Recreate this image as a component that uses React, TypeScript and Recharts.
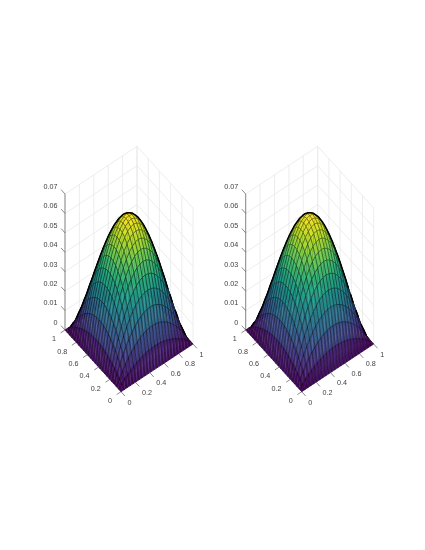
import React from 'react';
import { ScatterChart, Scatter, XAxis, YAxis } from 'recharts';

// mesh nodes along x and y
const GRID = [0, 0.0417, 0.0833, 0.125, 0.1667, 0.2083, 0.25, 0.2917, 0.3333, 0.375, 0.4167, 0.4583, 0.5, 0.5417, 0.5833, 0.625, 0.6667, 0.7083, 0.75, 0.7917, 0.8333, 0.875, 0.9167, 0.9583, 1];
// surface height at every node, in units of 1e-4
const Z_ROWS = [
  [0,0,0,0,0,0,0,0,0,0,0,0,0,0,0,0,0,0,0,0,0,0,0,0,0],
  [0,16,31,44,55,66,75,82,89,94,97,99,100,99,97,94,89,82,75,66,55,44,31,16,0],
  [0,31,58,84,106,126,143,158,170,179,186,190,191,190,186,179,170,158,143,126,106,84,58,31,0],
  [0,44,84,120,152,180,205,226,243,256,266,272,273,272,266,256,243,226,205,180,152,120,84,44,0],
  [0,55,106,152,193,229,260,287,309,326,338,345,347,345,338,326,309,287,260,229,193,152,106,55,0],
  [0,66,126,180,229,272,309,341,367,387,401,409,412,409,401,387,367,341,309,272,229,180,126,66,0],
  [0,75,143,205,260,309,352,387,417,439,456,465,469,465,456,439,417,387,352,309,260,205,143,75,0],
  [0,82,158,226,287,341,387,427,459,484,502,513,517,513,502,484,459,427,387,341,287,226,158,82,0],
  [0,89,170,243,309,367,417,459,494,521,540,552,556,552,540,521,494,459,417,367,309,243,170,89,0],
  [0,94,179,256,326,387,439,484,521,549,570,582,586,582,570,549,521,484,439,387,326,256,179,94,0],
  [0,97,186,266,338,401,456,502,540,570,591,603,608,603,591,570,540,502,456,401,338,266,186,97,0],
  [0,99,190,272,345,409,465,513,552,582,603,616,621,616,603,582,552,513,465,409,345,272,190,99,0],
  [0,100,191,273,347,412,469,517,556,586,608,621,625,621,608,586,556,517,469,412,347,273,191,100,0],
  [0,99,190,272,345,409,465,513,552,582,603,616,621,616,603,582,552,513,465,409,345,272,190,99,0],
  [0,97,186,266,338,401,456,502,540,570,591,603,608,603,591,570,540,502,456,401,338,266,186,97,0],
  [0,94,179,256,326,387,439,484,521,549,570,582,586,582,570,549,521,484,439,387,326,256,179,94,0],
  [0,89,170,243,309,367,417,459,494,521,540,552,556,552,540,521,494,459,417,367,309,243,170,89,0],
  [0,82,158,226,287,341,387,427,459,484,502,513,517,513,502,484,459,427,387,341,287,226,158,82,0],
  [0,75,143,205,260,309,352,387,417,439,456,465,469,465,456,439,417,387,352,309,260,205,143,75,0],
  [0,66,126,180,229,272,309,341,367,387,401,409,412,409,401,387,367,341,309,272,229,180,126,66,0],
  [0,55,106,152,193,229,260,287,309,326,338,345,347,345,338,326,309,287,260,229,193,152,106,55,0],
  [0,44,84,120,152,180,205,226,243,256,266,272,273,272,266,256,243,226,205,180,152,120,84,44,0],
  [0,31,58,84,106,126,143,158,170,179,186,190,191,190,186,179,170,158,143,126,106,84,58,31,0],
  [0,16,31,44,55,66,75,82,89,94,97,99,100,99,97,94,89,82,75,66,55,44,31,16,0],
  [0,0,0,0,0,0,0,0,0,0,0,0,0,0,0,0,0,0,0,0,0,0,0,0,0],
];
const XY_TICKS = [0, 0.2, 0.4, 0.6, 0.8, 1];
const XY_LABELS = ['0', '0.2', '0.4', '0.6', '0.8', '1'];
const Z_TICKS = [0, 0.01, 0.02, 0.03, 0.04, 0.05, 0.06, 0.07];
const Z_LABELS = ['0', '0.01', '0.02', '0.03', '0.04', '0.05', '0.06', '0.07'];
const VIRIDIS = ['#440154', '#482878', '#3e4989', '#31688e', '#26828e', '#1f9e89', '#35b779', '#6ece58', '#b5de2b', '#fde725'];
const PANEL_OFFSETS = [0, 180.7];

const W = 425;
const H = 550;

const project = (x: number, y: number, z: number, off: number) => ({
  sx: 121 + off + 72 * x - 56 * y,
  sy: 391.7 - 47.7 * x - 61.7 * y - 1943 * z,
});

const hexToRgb = (h: string) => [1, 3, 5].map((i) => parseInt(h.slice(i, i + 2), 16));
const colorOf = (t: number) => {
  const v = Math.max(0, Math.min(0.9999, t)) * (VIRIDIS.length - 1);
  const k = Math.floor(v);
  const a = hexToRgb(VIRIDIS[k]);
  const b = hexToRgb(VIRIDIS[k + 1]);
  const c = a.map((u, i) => Math.round(u + (b[i] - u) * (v - k)));
  return `rgb(${c[0]},${c[1]},${c[2]})`;
};

const noShape = () => <g />;

const segmentsLine = (stroke: string, width: number) => (props: any) => {
  const p = props.points;
  let d = '';
  for (let i = 0; i + 1 < p.length; i += 2) d += `M${p[i].x},${p[i].y}L${p[i + 1].x},${p[i + 1].y}`;
  return <path d={d} fill="none" stroke={stroke} strokeWidth={width} />;
};

const area = (a: any, b: any, c: any) => (b.x - a.x) * (c.y - a.y) - (b.y - a.y) * (c.x - a.x);

const surfaceLine = (variant: number) => (props: any) => {
  const p = props.points;
  const n = GRID.length;
  const at = (i: number, j: number) => p[i * n + j];
  const pt = (q: any) => `${q.x.toFixed(2)},${q.y.toFixed(2)}`;
  const out: React.ReactElement[] = [];
  const lineW = variant === 0 ? 0.62 : 0.56;
  for (let s = 2 * (n - 2); s >= 0; s--) {
    for (let i = Math.max(0, s - (n - 2)); i <= Math.min(s, n - 2); i++) {
      const j = s - i;
      const A = at(i, j), B = at(i + 1, j), C = at(i + 1, j + 1), D = at(i, j + 1);
      const zv = (a: number, b: number) => Z_ROWS[a][b] / 625;
      const t1 = (zv(i, j) + zv(i + 1, j) + zv(i + 1, j + 1)) / 3;
      const t2 = (zv(i, j) + zv(i, j + 1) + zv(i + 1, j + 1)) / 3;
      const c1 = colorOf(t1), c2 = colorOf(t2);
      out.push(
        <path key={`a${i}-${j}`} d={`M${pt(A)}L${pt(B)}L${pt(C)}Z`} fill={c1} stroke={c1} strokeWidth={0.4} />,
        <path key={`b${i}-${j}`} d={`M${pt(A)}L${pt(D)}L${pt(C)}Z`} fill={c2} stroke={c2} strokeWidth={0.4} />,
        <path key={`x${i}-${j}`} d={`M${pt(B)}L${pt(C)}L${pt(D)}`} stroke="#000" strokeOpacity={0.8} strokeWidth={lineW} fill="none" />,
      );
      if ((i + j) % 2 === 0) out.push(<path key={`d${i}-${j}`} d={`M${pt(A)}L${pt(C)}`} stroke="#000" strokeOpacity={0.3} strokeWidth={0.4} fill="none" />);
    }
  }
  // outline of the dome: mesh edges between a front-facing and a back-facing cell
  let outline = '';
  for (let i = 0; i < n - 1; i++) {
    for (let j = 0; j < n - 1; j++) {
      if (i >= n - 8 && j >= n - 8) continue;
      const A = at(i, j), B = at(i + 1, j), C = at(i + 1, j + 1), D = at(i, j + 1);
      const f = area(A, B, C) < 0 ? 1 : -1;
      const h = area(A, C, D) < 0 ? 1 : -1;
      if (i + 2 < n) {
        const g = area(B, at(i + 2, j + 1), C) < 0 ? 1 : -1;
        if (f !== g) outline += `M${pt(B)}L${pt(C)}`;
      }
      if (j + 2 < n) {
        const g = area(D, C, at(i, j + 2)) < 0 ? 1 : -1;
        if (g !== h) outline += `M${pt(C)}L${pt(D)}`;
      }
      if (f !== h) outline += `M${pt(A)}L${pt(C)}`;
    }
  }
  return (
    <g>
      {out}
      <path d={outline} fill="none" stroke="#000" strokeWidth={1.5} strokeLinecap="round" />
    </g>
  );
};

const tickText = (dx: number, dy: number, anchor: string) => (props: any) => (
  <text
    x={props.cx + dx}
    y={props.cy + dy}
    textAnchor={anchor}
    dominantBaseline="central"
    fontFamily="'Liberation Sans', Arial, sans-serif"
    fontSize={7.2}
    fill="#3a3a3a"
    style={{ willChange: 'opacity' }}
    opacity={0.98}
  >
    {props.payload.label}
  </text>
);

const seg = (a: number[], b: number[], off: number) => [project(a[0], a[1], a[2], off), project(b[0], b[1], b[2], off)];

const Panel = (off: number, idx: number) => {
  const zTop = Z_TICKS[Z_TICKS.length - 1];
  const grid: any[] = [];
  XY_TICKS.forEach((t) => {
    grid.push(...seg([t, 1, 0], [t, 1, zTop], off));
    grid.push(...seg([1, t, 0], [1, t, zTop], off));
    grid.push(...seg([t, 0, 0], [t, 1, 0], off));
    grid.push(...seg([0, t, 0], [1, t, 0], off));
  });
  Z_TICKS.forEach((z) => {
    grid.push(...seg([0, 1, z], [1, 1, z], off));
    grid.push(...seg([1, 0, z], [1, 1, z], off));
  });
  const axes: any[] = [];
  axes.push(...seg([0, 1, 0], [0, 1, zTop], off));
  axes.push(...seg([0, 0, 0], [1, 0, 0], off));
  axes.push(...seg([0, 0, 0], [0, 1, 0], off));
  Z_TICKS.forEach((z) => axes.push(...seg([0, 1, z], [0, 1.07, z], off)));
  XY_TICKS.forEach((t) => {
    axes.push(...seg([t, 0, 0], [t, -0.07, 0], off));
    axes.push(...seg([0, t, 0], [-0.06, t, 0], off));
  });
  const surface: any[] = [];
  GRID.forEach((x, i) => GRID.forEach((y, j) => surface.push(project(x, y, Z_ROWS[i][j] / 10000, off))));
  const zLabels = Z_TICKS.map((z, i) => ({ ...project(0, 1, z, off), label: Z_LABELS[i] }));
  const xLabels = XY_TICKS.map((t, i) => ({ ...project(t, 0, 0, off), label: XY_LABELS[i] }));
  const yLabels = XY_TICKS.map((t, i) => ({ ...project(0, t, 0, off), label: XY_LABELS[i] }));
  return [
    <Scatter key={`g${idx}`} data={grid} dataKey="sy" isAnimationActive={false} shape={noShape} line={segmentsLine('#e8e8e8', 0.8)} />,
    <Scatter key={`a${idx}`} data={axes} dataKey="sy" isAnimationActive={false} shape={noShape} line={segmentsLine('#5a5a5a', 0.7)} />,
    <Scatter key={`s${idx}`} data={surface} dataKey="sy" isAnimationActive={false} shape={noShape} line={surfaceLine(idx)} />,
    <Scatter key={`z${idx}`} data={zLabels} dataKey="sy" isAnimationActive={false} shape={tickText(-7.5, -7.6, 'end')} />,
    <Scatter key={`x${idx}`} data={xLabels} dataKey="sy" isAnimationActive={false} shape={tickText(6.5, 10.3, 'start')} />,
    <Scatter key={`y${idx}`} data={yLabels} dataKey="sy" isAnimationActive={false} shape={tickText(-9, 8.8, 'end')} />,
  ];
};

export default function App() {
  return (
    <div style={{ position: 'absolute', left: 0, top: 0, width: W, height: H }}>
      <ScatterChart width={W} height={H} margin={{ top: 0, right: 0, bottom: 0, left: 0 }}>
        <XAxis type="number" dataKey="sx" domain={[0, W]} hide />
        <YAxis type="number" dataKey="sy" domain={[0, H]} reversed hide />
        {PANEL_OFFSETS.map((off, idx) => Panel(off, idx))}
      </ScatterChart>
    </div>
  );
}
